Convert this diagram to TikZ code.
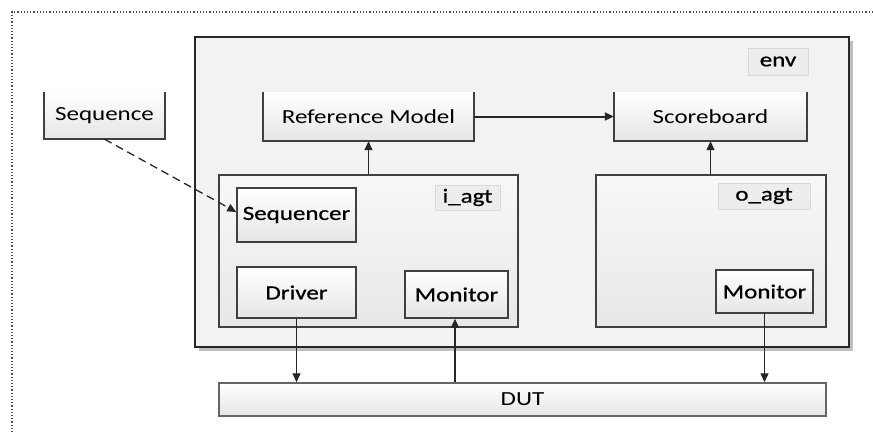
\documentclass[tikz,border=0pt]{standalone}
\usepackage{fontspec}
\setmainfont[FakeStretch=1.25]{Carlito}
\newfontfamily\heavyfont[FakeStretch=1.25,FakeBold=0.8]{Carlito}
\usetikzlibrary{arrows.meta}

\tikzset{
  txt/.style={font=\fontsize{20}{24}\selectfont, text=black},
  heavy/.style={font=\fontsize{20}{24}\heavyfont, text=black},
  block/.style={heavy, draw=black!75, line width=1.5pt, top color=white, bottom color=black!10, inner sep=0pt},
  openblock/.style={txt, top color=white, bottom color=black!10, inner sep=0pt},
  agentbox/.style={draw=black!75, line width=1.5pt, top color=black!3, bottom color=black!9, inner sep=0pt},
  tagbox/.style={heavy, fill=black!7, draw=black!15, line width=0.6pt, inner sep=0pt},
  link/.style={line width=1.3pt, black!85, -{Triangle[length=9pt,width=8pt]}},
}

\begin{document}
\begin{tikzpicture}[x=1pt,y=1pt,yscale=-1,xscale=1]
	\useasboundingbox (0,0) rectangle (873,434);

	%Dotted frame (top and left edges)
	\draw [line width=1.2pt, black!70, dash pattern={on 1.2pt off 2pt}] (873,12) -- (12,12) -- (12,434) ;

	%Shape: env shadow
	\fill [black!25] (199,41) rectangle (853,351) ;
	%Shape: env
	\node [draw=black!85, line width=2.6pt, fill=black!5, minimum width=654, minimum height=310, inner sep=0pt] (env) at (522,192) {} ;
	% Text Node
	\node [tagbox, minimum width=60, minimum height=27] (envtag) at (778,61.5) {env} ;

	%Shape: Sequence
	\node [openblock, minimum width=121, minimum height=47] (seq) at (104.5,115.5) {Sequence} ;
	\draw [black!75, line width=1.5pt] (seq.north west) -- (seq.south west) -- (seq.south east) -- (seq.north east) ;
	%Shape: Reference Model
	\node [openblock, minimum width=211, minimum height=49] (refm) at (368.5,116.5) {Reference Model} ;
	\draw [black!75, line width=1.5pt] (refm.north west) -- (refm.south west) -- (refm.south east) -- (refm.north east) ;
	%Shape: Scoreboard
	\node [openblock, minimum width=193, minimum height=49] (scb) at (710.5,116.5) {Scoreboard} ;
	\draw [black!75, line width=1.5pt] (scb.north west) -- (scb.south west) -- (scb.south east) -- (scb.north east) ;

	%Shape: i_agt
	\node [agentbox, minimum width=299, minimum height=152] (iagt) at (368.5,251) {} ;
	\node [tagbox, minimum width=65, minimum height=25] (iagttag) at (467.5,197.5) {i\_agt} ;
	\node [block, minimum width=119, minimum height=54] (seqr) at (296.5,215) {Sequencer} ;
	\node [block, minimum width=119, minimum height=51] (drv) at (296.5,292.5) {Driver} ;
	\node [block, minimum width=103, minimum height=47] (imon) at (456.5,294.5) {Monitor} ;

	%Shape: o_agt
	\node [agentbox, minimum width=230, minimum height=152] (oagt) at (711,251) {} ;
	\node [tagbox, minimum width=92, minimum height=26] (oagttag) at (764,196) {o\_agt} ;
	\node [block, minimum width=97, minimum height=43] (omon) at (764.5,291.5) {Monitor} ;

	%Shape: DUT
	\node [openblock, draw=black!60, line width=1.5pt, minimum width=607, minimum height=33] (dut) at (522.5,399.5) {DUT} ;

	%Straight Lines
	\draw [link, line width=2pt] (refm.east) -- (scb.west) ;
	\draw [link] (iagt.north) -- (refm.south) ;
	\draw [link] (oagt.north -| scb.south) -- (scb.south) ;
	\draw [link] (drv.south) -- (drv.south |- dut.north) ;
	\draw [link] (dut.north -| 455,0) -- (imon.south -| 455,0) ;
	\draw [link] (omon.south) -- (omon.south |- dut.north) ;
	\draw [link, dash pattern={on 8pt off 5pt}] (seq.south) -- ([yshift=-3pt]seqr.west) ;

\end{tikzpicture}
\end{document}
